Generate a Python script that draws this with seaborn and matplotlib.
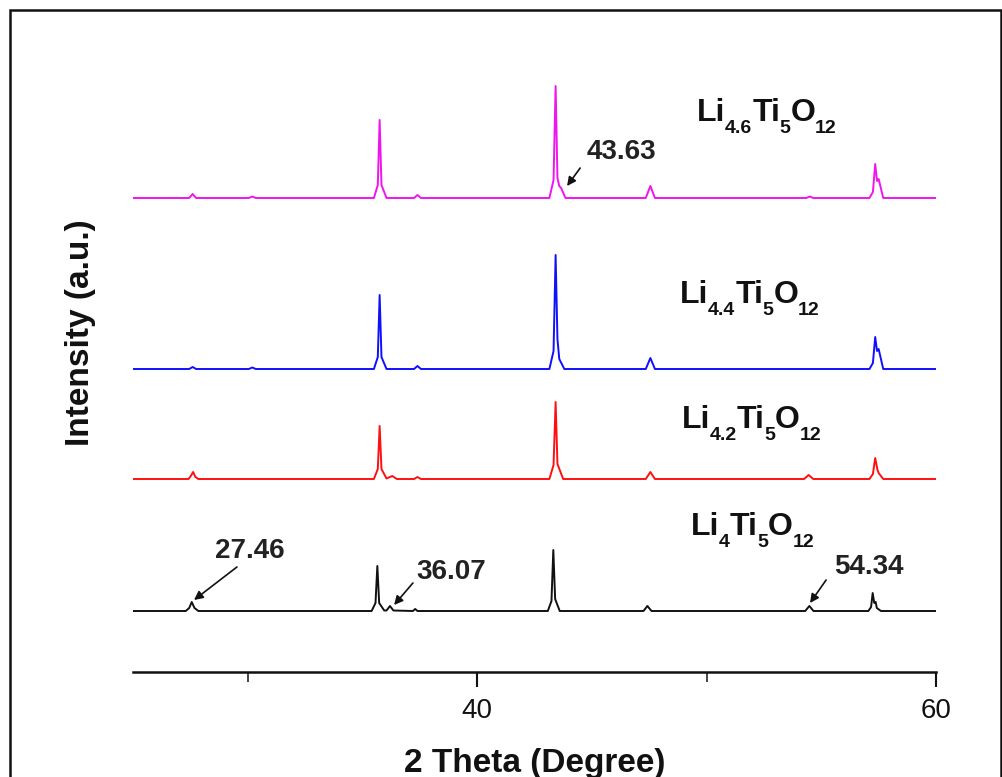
import matplotlib
matplotlib.use("Agg")
import matplotlib.pyplot as plt
from matplotlib.ticker import MultipleLocator
from matplotlib.patches import Rectangle
import seaborn as sns
import pandas as pd

# ---------------- data (2-theta in degrees, intensity in a.u.) ----------------
samples = ["Li4Ti5O12", "Li4.2Ti5O12", "Li4.4Ti5O12", "Li4.6Ti5O12"]
li_content = ["4", "4.2", "4.4", "4.6"]
stack_offsets = [0, 132, 242, 413]
line_colors = ["#111111", "#ff1010", "#1010ff", "#f014f0"]

two_theta_li40 = [25.0, 27.30, 27.45, 27.56, 27.68, 27.85,
                  35.40, 35.57, 35.65, 35.73, 35.95, 36.05, 36.20, 36.35,
                  37.20, 37.30, 37.40,
                  43.08, 43.24, 43.32, 43.40, 43.60,
                  47.25, 47.42, 47.60,
                  54.30, 54.48, 54.66,
                  57.05, 57.17, 57.24, 57.31, 57.37, 57.42, 57.60,
                  60.0]
intensity_li40 = [0, 0, 3, 9, 3, 0,
                  0, 8, 45, 8, 0.5, 0.5, 5, 0.5,
                  0, 2, 0,
                  0, 10, 61, 12, 0,
                  0, 5, 0,
                  0, 5, 0,
                  0, 4, 18, 8, 9, 3, 0,
                  0]

two_theta_li42 = [25.0, 27.42, 27.52, 27.62, 27.72, 27.85,
                  35.50, 35.67, 35.75, 35.83, 36.05, 36.30, 36.50,
                  37.25, 37.40, 37.55,
                  43.15, 43.33, 43.42, 43.50, 43.75,
                  47.35, 47.55, 47.75,
                  54.25, 54.45, 54.65,
                  57.10, 57.25, 57.35, 57.45, 57.50, 57.70,
                  60.0]
intensity_li42 = [0, 0, 3, 7, 2, 0,
                  0, 10, 53, 10, 0.5, 3, 0,
                  0, 2, 0,
                  0, 14, 77, 15, 0,
                  0, 7, 0,
                  0, 4, 0,
                  0, 5, 21, 9, 6, 0,
                  0]

two_theta_li44 = [25.0, 27.45, 27.60, 27.75, 30.05, 30.20, 30.35,
                  35.50, 35.67, 35.75, 35.83, 36.05,
                  37.25, 37.40, 37.55,
                  43.15, 43.33, 43.42, 43.50, 43.58, 43.80,
                  47.35, 47.55, 47.75,
                  57.10, 57.25, 57.35, 57.43, 57.50, 57.70,
                  60.0]
intensity_li44 = [0, 0, 2, 0, 0, 1.5, 0,
                  0, 12, 74, 12, 0,
                  0, 3, 0,
                  0, 18, 114, 30, 10, 0,
                  0, 11, 0,
                  0, 6, 32, 18, 20, 0,
                  0]

two_theta_li46 = [25.0, 27.45, 27.60, 27.75, 30.05, 30.20, 30.35,
                  35.50, 35.67, 35.75, 35.83, 36.05,
                  37.25, 37.40, 37.55,
                  43.15, 43.33, 43.42, 43.50, 43.58, 43.66, 43.85,
                  47.35, 47.55, 47.75,
                  54.35, 54.50, 54.65,
                  57.10, 57.25, 57.35, 57.43, 57.50, 57.70,
                  60.0]
intensity_li46 = [0, 0, 4, 0, 0, 1.5, 0,
                  0, 13, 78, 13, 0,
                  0, 3, 0,
                  0, 18, 112, 20, 12, 10, 0,
                  0, 12, 0,
                  0, 1.5, 0,
                  0, 6, 34, 17, 19, 0,
                  0]

two_theta_all = [two_theta_li40, two_theta_li42, two_theta_li44, two_theta_li46]
intensity_all = [intensity_li40, intensity_li42, intensity_li44, intensity_li46]

# annotated peaks
peak_labels = ["27.46", "36.07", "54.34", "43.63"]
peak_heads = [(27.66, 11), (36.38, 6), (54.51, 8), (43.92, 425)]
peak_tails = [(29.53, 44), (37.20, 28), (55.21, 31), (44.49, 443)]
peak_text_pos = [(30.1, 60), (38.86, 39), (57.08, 44), (46.27, 459)]

label_pos = [(49.32, 76), (48.92, 183), (48.85, 308), (49.59, 490)]

# ---------------- styling ----------------
sns.set_theme(style="white")
plt.rcParams["font.family"] = ["Liberation Sans", "DejaVu Sans"]
plt.rcParams["font.weight"] = "bold"

DPI = 100
fig = plt.figure(figsize=(10.03, 7.77), dpi=DPI)
fig.patch.set_facecolor("white")
ax = fig.add_axes([133 / 1003, 1 - 672 / 777, (936 - 133) / 1003, (672 - 60) / 777])
ax.set_facecolor("white")

for name, xs, ys, off, col in zip(samples, two_theta_all, intensity_all, stack_offsets, line_colors):
    df = pd.DataFrame({"two_theta": xs, "intensity": [v + off for v in ys]})
    sns.lineplot(data=df, x="two_theta", y="intensity", ax=ax, color=col,
                 lw=1.4, estimator=None, sort=False)

ax.set_xlim(25, 60)
ax.set_ylim(-61, 551)

renderer = fig.canvas.get_renderer()


def chem_label(x, y, li):
    parts = [("Li", False), (li, True), ("Ti", False), ("5", True), ("O", False), ("12", True)]
    adv = 0.0
    for txt, sub in parts:
        t = ax.annotate(txt, xy=(x, y), xycoords="data",
                        xytext=(adv * 72 / DPI, -8.5 if sub else 0),
                        textcoords="offset points",
                        fontsize=14 if sub else 23, fontweight="bold",
                        ha="left", va="baseline", color="#111111")
        bb = t.get_window_extent(renderer)
        adv += bb.width + (0.0 if sub else -0.5)


for li, (lx, ly) in zip(li_content, label_pos):
    chem_label(lx, ly, li)

for lab, head, tail, tpos in zip(peak_labels, peak_heads, peak_tails, peak_text_pos):
    ax.annotate("", xy=head, xytext=tail,
                arrowprops=dict(arrowstyle="-|>", color="#111111", lw=1.2,
                                mutation_scale=13, shrinkA=0, shrinkB=0))
    ax.text(tpos[0], tpos[1], lab, fontsize=20, fontweight="bold",
            ha="center", va="center", color="#222222")

ax.xaxis.set_major_locator(MultipleLocator(20))
ax.xaxis.set_minor_locator(MultipleLocator(10))
ax.tick_params(axis="x", which="major", length=11, width=1.5, direction="out",
               labelsize=20, pad=8, colors="#111111", bottom=True)
ax.tick_params(axis="x", which="minor", length=7, width=1.2, direction="out", bottom=True)
for lbl in ax.get_xticklabels():
    lbl.set_fontweight("normal")
ax.set_yticks([])

for s in ["left", "right", "top"]:
    ax.spines[s].set_visible(False)
ax.spines["bottom"].set_linewidth(1.8)
ax.spines["bottom"].set_color("#111111")

ax.set_xlabel("2 Theta (Degree)", fontsize=24, fontweight="bold", labelpad=17, color="#111111")
ax.set_ylabel("Intensity (a.u.)", fontsize=24, fontweight="bold", color="#111111")
ax.yaxis.set_label_coords((96 - 133) / 803, (672 - 333) / 612)

fig.patches.append(Rectangle((10 / 1003, -0.05), 991 / 1003, (1 - 10 / 777) + 0.05,
                             transform=fig.transFigure, fill=False, lw=1.8,
                             ec="#111111", figure=fig))

fig.savefig("out.png", dpi=DPI)
